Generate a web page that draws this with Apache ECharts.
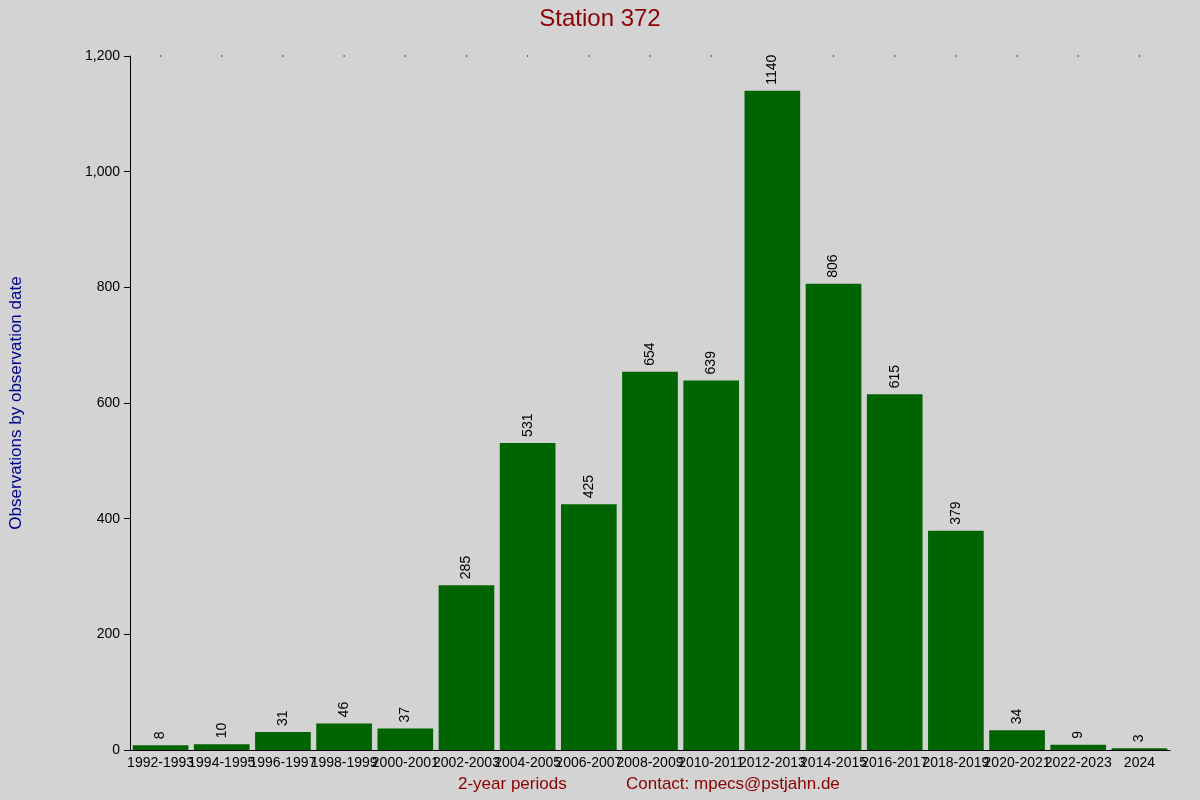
<!DOCTYPE html>
<html><head><meta charset="utf-8">
<script src="https://cdn.jsdelivr.net/npm/echarts@6/dist/echarts.min.js"></script>
<style>html,body{margin:0;background:#d3d3d3}#c{width:1200px;height:800px}</style>
</head><body><div id="c"></div>
<script>
const categories=["1992-1993","1994-1995","1996-1997","1998-1999","2000-2001","2002-2003","2004-2005","2006-2007","2008-2009","2010-2011","2012-2013","2014-2015","2016-2017","2018-2019","2020-2021","2022-2023","2024"];
const values=[8,10,31,46,37,285,531,425,654,639,1140,806,615,379,34,9,3];
const yTicks=[0,200,400,600,800,1000,1200];
const ff='Liberation Sans, Arial, sans-serif';
const chart=echarts.init(document.getElementById('c'));
chart.setOption({
  backgroundColor:'#d3d3d3',
  animation:false,
  title:{text:'Station 372',left:'center',top:2,textStyle:{color:'#8b0000',fontSize:24,fontWeight:'normal',fontFamily:ff}},
  grid:{left:126,right:30,top:56,bottom:50},
  xAxis:{type:'category',data:categories,
    axisLine:{lineStyle:{color:'#000'}},axisTick:{show:false},
    axisLabel:{color:'#000',fontSize:14,fontFamily:ff,interval:0,margin:6}},
  yAxis:{type:'value',min:0,max:1200,interval:200,
    axisLine:{show:true,lineStyle:{color:'#000'}},
    axisTick:{show:true,length:6,lineStyle:{color:'#000'}},
    splitLine:{show:false},
    axisLabel:{color:'#000',fontSize:14,fontFamily:ff,margin:10},
    name:'Observations by observation date',nameLocation:'middle',nameGap:105,
    nameTextStyle:{color:'#00008b',fontSize:17,fontFamily:ff}},
  series:[{type:'bar',data:values,barCategoryGap:'9%',itemStyle:{color:'#006400'},
    label:{show:true,position:'top',rotate:90,align:'left',verticalAlign:'middle',distance:6,color:'#000',fontSize:14,fontFamily:ff}},
    {type:'scatter',data:categories.map(()=>yTicks[yTicks.length-1]),symbolSize:1.5,itemStyle:{color:'#000'},silent:true}],
  graphic:[
    {type:'text',left:458,top:776,style:{text:'2-year periods',fill:'#8b0000',fontSize:17,fontFamily:ff}},
    {type:'text',left:626,top:776,style:{text:'Contact: mpecs@pstjahn.de',fill:'#8b0000',fontSize:17,fontFamily:ff}}
  ]
});
</script></body></html>
